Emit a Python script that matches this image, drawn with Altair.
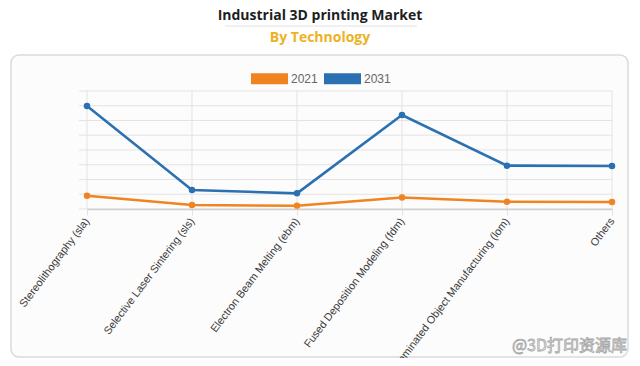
import altair as alt
import pandas as pd

TITLE = "Industrial 3D printing Market"
SUBTITLE = "By Technology"
WATERMARK = "@3D打印资源库"

categories = [
    "Stereolithography (sla)",
    "Selective Laser Sintering (sls)",
    "Electron Beam Melting (ebm)",
    "Fused Deposition Modeling (fdm)",
    "Laminated Object Manufacturing (lom)",
    "Others",
]
series_names = ["2021", "2031"]
values_2021 = [0.90, 0.27, 0.22, 0.78, 0.49, 0.47]
values_2031 = [6.98, 1.29, 1.06, 6.37, 2.94, 2.92]
y_ticks = [0, 1, 2, 3, 4, 5, 6, 7, 8]

colors = ["#ef8421", "#2b70b2"]
GRID = "#e3e3e3"

rows = []
for s, vals in zip(series_names, [values_2021, values_2031]):
    for c, v in zip(categories, vals):
        rows.append({"tech": c, "year": s, "value": v})
df = pd.DataFrame(rows)

x_scale = alt.Scale(type="point", padding=0)
y_scale = alt.Scale(domain=[0, 8], nice=False)

x_axis = alt.Axis(
    title=None,
    labelAngle=-53,
    labelAlign="right",
    labelBaseline="middle",
    labelFont="Liberation Sans",
    labelFontSize=10.8,
    labelColor="#3a3a3a",
    labelPadding=4,
    tickSize=6,
    tickColor=GRID,
    grid=False,
    domainColor="#cfcfcf",
    domainWidth=1.5,
    labelLimit=400,
    zindex=1,
)
x_enc = alt.X("tech:N", sort=categories, scale=x_scale, axis=x_axis)
y_enc = alt.Y("value:Q", scale=y_scale, axis=None)
color_scale = alt.Scale(domain=series_names, range=colors)

leg = alt.Legend(
    title=None,
    orient="none",
    direction="horizontal",
    legendX=164,
    legendY=-31,
    symbolType="M-1,-0.3H1V0.3H-1Z",
    symbolSize=1369,
    symbolStrokeWidth=0,
    symbolOpacity=1,
    labelFont="Liberation Sans",
    labelFontSize=12,
    labelColor="#666666",
    labelOffset=3,
    columnPadding=6,
    padding=0,
)

one = pd.DataFrame({"t": [TITLE], "s": [SUBTITLE], "w": [WATERMARK]})

card = alt.Chart(one).mark_rect(
    cornerRadius=8, fill="#fcfcfc", stroke="#dadada", strokeWidth=1.5
).encode(
    x=alt.value(-76), x2=alt.value(541), y=alt.value(-36), y2=alt.value(266)
)

vgrid = alt.Chart(pd.DataFrame({"tech": categories})).mark_rule(
    color=GRID, strokeWidth=1
).encode(
    x=x_enc,
    y=alt.value(0), y2=alt.value(118),
)
hgrid = alt.Chart(pd.DataFrame({"value": y_ticks})).mark_rule(
    color=GRID, strokeWidth=1
).encode(
    y=y_enc,
    x=alt.value(-8), x2=alt.value(525),
)

points = alt.Chart(df).mark_circle(size=42, opacity=1).encode(
    x=x_enc, y=y_enc,
    color=alt.Color("year:N", scale=color_scale, legend=leg),
)
lines = alt.Chart(df).mark_line(strokeWidth=2.6).encode(
    x=x_enc, y=y_enc,
    color=alt.Color("year:N", scale=color_scale, legend=leg),
)

sep = alt.Chart(one).mark_rule(color="#e2e2e2", strokeWidth=1).encode(
    x=alt.value(138), x2=alt.value(330), y=alt.value(-65)
)
title = alt.Chart(one).mark_text(
    font="Open Sans", fontSize=14, fontWeight="bold", color="#1e1e1e",
    align="center", baseline="middle",
).encode(text="t:N", x=alt.value(233), y=alt.value(-75))
subtitle = alt.Chart(one).mark_text(
    font="Open Sans", fontSize=14, fontWeight="bold", color="#edb21f",
    align="center", baseline="middle",
).encode(text="s:N", x=alt.value(233), y=alt.value(-53))
watermark = alt.Chart(one).mark_text(
    font="Noto Sans CJK SC", fontSize=16, fill="#f4f4f4", stroke="#a8a8a8",
    strokeWidth=0.8, align="right", baseline="middle",
).encode(text="w:N", x=alt.value(540), y=alt.value(255))

chart = alt.layer(
    card, vgrid, hgrid, sep, title, subtitle, points, lines, watermark
).properties(
    width=525,
    height=118,
    autosize=alt.AutoSizeParams(type="none"),
    padding={"left": 79, "top": 83, "right": 20, "bottom": 149},
    background="white",
).configure_view(stroke=None)

chart.save("out.html", embed_options={"renderer": "svg", "actions": False})
